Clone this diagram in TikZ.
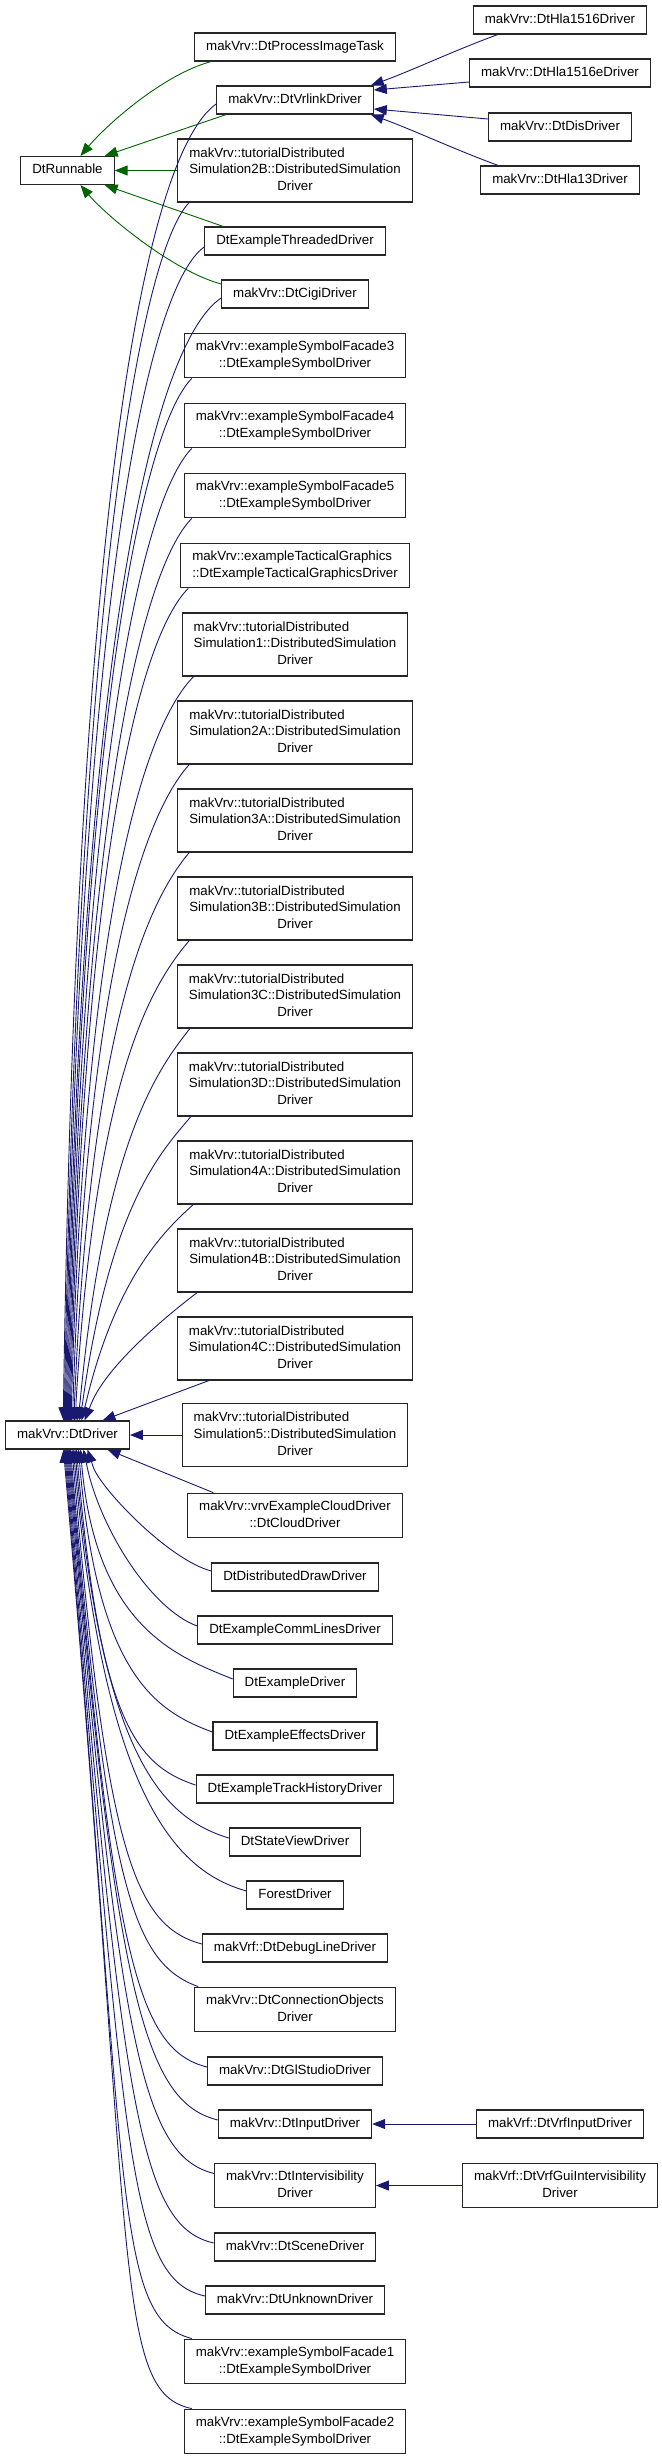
\documentclass[tikz,border=0pt]{standalone}
\usepackage{fontspec}
\setmainfont{Liberation Sans}
\usetikzlibrary{arrows.meta}

\definecolor{navy}{HTML}{191970}
\definecolor{dkgreen}{HTML}{006400}

\newcommand{\twoline}[2]{\begin{tabular}{@{}l@{}}#1\\\multicolumn{1}{@{}c@{}}{#2}\end{tabular}}
\newcommand{\threeline}[3]{\begin{tabular}{@{}l@{}}#1\\#2\\\multicolumn{1}{@{}c@{}}{#3}\end{tabular}}

\tikzset{
  cls/.style={draw=black!85, line width=1.1pt, fill=white, inner xsep=11.5pt, inner ysep=5.6pt,
    font=\fontsize{13.3}{16.8}\selectfont},
  one/.style={cls, text height=11.76pt, text depth=5.04pt},
  three/.style={cls, minimum height=63pt},
  pub/.style={draw=navy, line width=0.9pt, -{Triangle[length=13pt,width=10pt]}},
  prot/.style={draw=dkgreen, line width=0.9pt, -{Triangle[length=13pt,width=10pt]}}
}

\begin{document}
\begin{tikzpicture}[x=1pt,y=1pt]
\useasboundingbox (0,0) rectangle (661,-2459);

% base classes
\node[one] (run) at (67.5,-170.5) {DtRunnable};
\node[one] (drv) at (67.5,-1435) {makVrv::DtDriver};

% derived classes
\node[one] (pit) at (295,-47) {makVrv::DtProcessImageTask};
\node[one] (vrl) at (295,-100) {makVrv::DtVrlinkDriver};
\node[three] (tds2b) at (295,-170.5) {\threeline{makVrv::tutorialDistributed}{Simulation2B::DistributedSimulation}{Driver}};
\node[one] (thr) at (295,-241) {DtExampleThreadedDriver};
\node[one] (cigi) at (295,-294) {makVrv::DtCigiDriver};
\node[cls] (sf3) at (295,-355.5) {\twoline{makVrv::exampleSymbolFacade3}{::DtExampleSymbolDriver}};
\node[cls] (sf4) at (295,-425.5) {\twoline{makVrv::exampleSymbolFacade4}{::DtExampleSymbolDriver}};
\node[cls] (sf5) at (295,-495.5) {\twoline{makVrv::exampleSymbolFacade5}{::DtExampleSymbolDriver}};
\node[cls] (tg) at (295,-565.5) {\twoline{makVrv::exampleTacticalGraphics}{::DtExampleTacticalGraphicsDriver}};
\node[three] (tds1) at (295,-644.5) {\threeline{makVrv::tutorialDistributed}{Simulation1::DistributedSimulation}{Driver}};
\node[three] (tds2a) at (295,-732.5) {\threeline{makVrv::tutorialDistributed}{Simulation2A::DistributedSimulation}{Driver}};
\node[three] (tds3a) at (295,-820.5) {\threeline{makVrv::tutorialDistributed}{Simulation3A::DistributedSimulation}{Driver}};
\node[three] (tds3b) at (295,-908.5) {\threeline{makVrv::tutorialDistributed}{Simulation3B::DistributedSimulation}{Driver}};
\node[three] (tds3c) at (295,-996.5) {\threeline{makVrv::tutorialDistributed}{Simulation3C::DistributedSimulation}{Driver}};
\node[three] (tds3d) at (295,-1084.5) {\threeline{makVrv::tutorialDistributed}{Simulation3D::DistributedSimulation}{Driver}};
\node[three] (tds4a) at (295,-1172.5) {\threeline{makVrv::tutorialDistributed}{Simulation4A::DistributedSimulation}{Driver}};
\node[three] (tds4b) at (295,-1260.5) {\threeline{makVrv::tutorialDistributed}{Simulation4B::DistributedSimulation}{Driver}};
\node[three] (tds4c) at (295,-1348.5) {\threeline{makVrv::tutorialDistributed}{Simulation4C::DistributedSimulation}{Driver}};
\node[three] (tds5) at (295,-1435) {\threeline{makVrv::tutorialDistributed}{Simulation5::DistributedSimulation}{Driver}};
\node[cls] (cld) at (295,-1515.5) {\twoline{makVrv::vrvExampleCloudDriver}{::DtCloudDriver}};
\node[one] (ddd) at (295,-1577) {DtDistributedDrawDriver};
\node[one] (cml) at (295,-1630) {DtExampleCommLinesDriver};
\node[one] (exd) at (295,-1683) {DtExampleDriver};
\node[one] (efx) at (295,-1736) {DtExampleEffectsDriver};
\node[one] (trk) at (295,-1789) {DtExampleTrackHistoryDriver};
\node[one] (stv) at (295,-1842) {DtStateViewDriver};
\node[one] (fst) at (295,-1895) {ForestDriver};
\node[one] (dbg) at (295,-1948) {makVrf::DtDebugLineDriver};
\node[cls] (con) at (295,-2009.5) {\twoline{makVrv::DtConnectionObjects}{Driver}};
\node[one] (gls) at (295,-2071) {makVrv::DtGlStudioDriver};
\node[one] (inp) at (295,-2124) {makVrv::DtInputDriver};
\node[cls] (itv) at (295,-2185.5) {\twoline{makVrv::DtIntervisibility}{Driver}};
\node[one] (scn) at (295,-2247) {makVrv::DtSceneDriver};
\node[one] (unk) at (295,-2300) {makVrv::DtUnknownDriver};
\node[cls] (sf1) at (295,-2361.5) {\twoline{makVrv::exampleSymbolFacade1}{::DtExampleSymbolDriver}};
\node[cls] (sf2) at (295,-2431.5) {\twoline{makVrv::exampleSymbolFacade2}{::DtExampleSymbolDriver}};

% third column
\node[one] (h1516) at (560,-20) {makVrv::DtHla1516Driver};
\node[one] (h1516e) at (560,-73) {makVrv::DtHla1516eDriver};
\node[one] (dis) at (560,-127) {makVrv::DtDisDriver};
\node[one] (h13) at (560,-180) {makVrv::DtHla13Driver};
\node[one] (vin) at (560,-2124) {makVrf::DtVrfInputDriver};
\node[cls] (vgi) at (560,-2185.5) {\twoline{makVrf::DtVrfGuiIntervisibility}{Driver}};

% DtRunnable
\draw[prot] ([xshift=17pt]pit.south west) to[out=195,in=50,out distance=50pt,in distance=40pt] ([xshift=13pt]run.north);
\draw[prot] ([xshift=10pt]vrl.south west) -- ([xshift=-10pt]run.north east);
\draw[prot] (tds2b.west) -- (run.east);
\draw[prot] ([xshift=19pt]thr.north west) -- ([xshift=-10pt]run.south east);
\draw[prot] ([yshift=10pt]cigi.west) to[out=165,in=310,out distance=50pt,in distance=40pt] ([xshift=13pt]run.south);

% DtDriver, from above
\draw[pub] ([yshift=-4pt]vrl.west) .. controls +(-57.3,-40.2) and +(15,1000) .. ([xshift=-4pt,yshift=18pt]drv.north) -- ([xshift=-4pt]drv.north);
\draw[pub] ([xshift=12pt]tds2b.south west) .. controls +(-42.4,-42.4) and +(15,865) .. ([xshift=-3pt,yshift=18pt]drv.north) -- ([xshift=-3pt]drv.north);
\draw[pub] ([yshift=-6pt]thr.west) .. controls +(-53.2,-37.3) and +(15,834) .. ([xshift=-2pt,yshift=18pt]drv.north) -- ([xshift=-2pt]drv.north);
\draw[pub] ([yshift=-4pt]cigi.west) .. controls +(-62.2,-41.9) and +(15,796) .. ([xshift=-1pt,yshift=18pt]drv.north) -- ([xshift=-1pt]drv.north);
\draw[pub] ([xshift=8pt]sf3.south west) .. controls +(-42.4,-42.4) and +(15,738) .. ([yshift=18pt]drv.north) -- (drv.north);
\draw[pub] ([xshift=8pt]sf4.south west) .. controls +(-42.4,-42.4) and +(15,688) .. ([xshift=1pt,yshift=18pt]drv.north) -- ([xshift=1pt]drv.north);
\draw[pub] ([xshift=8pt]sf5.south west) .. controls +(-42.4,-42.4) and +(15,638) .. ([xshift=2pt,yshift=18pt]drv.north) -- ([xshift=2pt]drv.north);
\draw[pub] ([xshift=8pt]tg.south west) .. controls +(-42.4,-42.4) and +(15,587) .. ([xshift=3pt,yshift=18pt]drv.north) -- ([xshift=3pt]drv.north);
\draw[pub] ([xshift=12pt]tds1.south west) .. controls +(-42.4,-42.4) and +(15,524) .. ([xshift=4pt,yshift=18pt]drv.north) -- ([xshift=4pt]drv.north);
\draw[pub] ([xshift=12pt]tds2a.south west) .. controls +(-36.8,-40.9) and +(15,461) .. ([xshift=5.5pt,yshift=18pt]drv.north) -- ([xshift=5.5pt]drv.north);
\draw[pub] ([xshift=12pt]tds3a.south west) .. controls +(-35.4,-42.1) and +(17,397) .. ([xshift=7pt,yshift=18pt]drv.north) -- ([xshift=7pt]drv.north);
\draw[pub] ([xshift=12pt]tds3b.south west) .. controls +(-35.4,-42.1) and +(20,334) .. ([xshift=8.5pt,yshift=18pt]drv.north) -- ([xshift=8.5pt]drv.north);
\draw[pub] ([xshift=13pt]tds3c.south west) .. controls +(-30.8,-39.4) and +(25,265) .. ([xshift=12.5pt,yshift=17.8pt]drv.north) -- ([xshift=10pt]drv.north);
\draw[pub] ([xshift=14pt]tds3d.south west) .. controls +(-28.9,-34.5) and +(28,200) .. ([xshift=15.1pt,yshift=17.7pt]drv.north) -- ([xshift=12pt]drv.north);
\draw[pub] ([xshift=16pt]tds4a.south west) .. controls +(-29.7,-26.8) and +(30,125) .. ([xshift=18.4pt,yshift=17.5pt]drv.north) -- ([xshift=14pt]drv.north);
\draw[pub] ([xshift=20pt]tds4b.south west) .. controls +(-28,-21.1) and +(15.7,38.9) .. ([xshift=23.7pt,yshift=16.7pt]drv.north) -- ([xshift=17pt]drv.north);
\draw[pub] ([xshift=32pt]tds4c.south west) -- ([xshift=35pt]drv.north);
\draw[pub] (tds5.west) -- (drv.east);

% DtDriver, from below
\draw[pub] ([xshift=26pt]cld.north west) -- ([xshift=40pt]drv.south);
\draw[pub] ([yshift=6pt]ddd.west) .. controls +(-43.5,11.6) and +(6.8,-20.9) .. ([xshift=25.6pt,yshift=-17.1pt]drv.south) -- ([xshift=20pt]drv.south);
\draw[pub] ([yshift=4pt]cml.west) .. controls +(-47,17.1) and +(12.9,-60.6) .. ([xshift=19.7pt,yshift=-17.6pt]drv.south) -- ([xshift=16pt]drv.south);
\draw[pub] ([yshift=4pt]exd.west) .. controls +(-55.6,22.5) and +(15,-160) .. ([xshift=14.5pt,yshift=-18pt]drv.south) -- ([xshift=13pt]drv.south);
\draw[pub] ([yshift=4pt]efx.west) .. controls +(-58.3,21.2) and +(18,-205) .. ([xshift=12.5pt,yshift=-18pt]drv.south) -- ([xshift=11pt]drv.south);
\draw[pub] ([yshift=4pt]trk.west) .. controls +(-60.9,19.8) and +(22,-250) .. ([xshift=10.5pt,yshift=-18pt]drv.south) -- ([xshift=9pt]drv.south);
\draw[pub] ([yshift=4pt]stv.west) .. controls +(-63.1,19.3) and +(26,-295) .. ([xshift=9pt,yshift=-18pt]drv.south) -- ([xshift=7.5pt]drv.south);
\draw[pub] ([yshift=4pt]fst.west) .. controls +(-65.4,18.7) and +(30,-340) .. ([xshift=7.5pt,yshift=-18pt]drv.south) -- ([xshift=6pt]drv.south);
\draw[pub] ([yshift=4pt]dbg.west) .. controls +(-67.6,18.1) and +(33,-385) .. ([xshift=6pt,yshift=-18pt]drv.south) -- ([xshift=4.5pt]drv.south);
\draw[pub] ([xshift=4pt]con.north west) .. controls +(-65.8,23.9) and +(36,-420) .. ([xshift=4.5pt,yshift=-18pt]drv.south) -- ([xshift=3pt]drv.south);
\draw[pub] ([yshift=4pt]gls.west) .. controls +(-69.9,17.4) and +(42,-490) .. ([xshift=3.5pt,yshift=-18pt]drv.south) -- ([xshift=2pt]drv.south);
\draw[pub] ([yshift=4pt]inp.west) .. controls +(-71.8,17.9) and +(46,-535) .. ([xshift=2.5pt,yshift=-18pt]drv.south) -- ([xshift=1pt]drv.south);
\draw[pub] ([yshift=12pt]itv.west) .. controls +(-71.8,17.9) and +(50,-580) .. ([xshift=1.5pt,yshift=-18pt]drv.south) -- (drv.south);
\draw[pub] ([yshift=4pt]scn.west) .. controls +(-74.1,17.1) and +(54,-645) .. ([xshift=0.5pt,yshift=-18pt]drv.south) -- ([xshift=-1pt]drv.south);
\draw[pub] ([yshift=4pt]unk.west) .. controls +(-76,17.5) and +(58,-695) .. ([xshift=-0.5pt,yshift=-18pt]drv.south) -- ([xshift=-2pt]drv.south);
\draw[pub] ([xshift=8pt]sf1.north west) .. controls +(-77.3,20.7) and +(62,-735) .. ([xshift=-1.5pt,yshift=-18pt]drv.south) -- ([xshift=-3pt]drv.south);
\draw[pub] ([xshift=8pt]sf2.north west) .. controls +(-78.3,16.6) and +(70,-800) .. ([xshift=-2.5pt,yshift=-18pt]drv.south) -- ([xshift=-4pt]drv.south);

% third column
\draw[pub] ([xshift=25pt]h1516.south west) to[out=200,in=20,out distance=45pt,in distance=45pt] ([xshift=-3pt]vrl.north east);
\draw[pub] ([yshift=-9pt]h1516e.west) -- ([yshift=10pt]vrl.east);
\draw[pub] ([yshift=8pt]dis.west) -- ([yshift=-9pt]vrl.east);
\draw[pub] ([xshift=18pt]h13.north west) to[out=160,in=-20,out distance=45pt,in distance=45pt] ([xshift=-3pt]vrl.south east);
\draw[pub] (vin.west) -- (inp.east);
\draw[pub] (vgi.west) -- (itv.east);
\end{tikzpicture}
\end{document}
